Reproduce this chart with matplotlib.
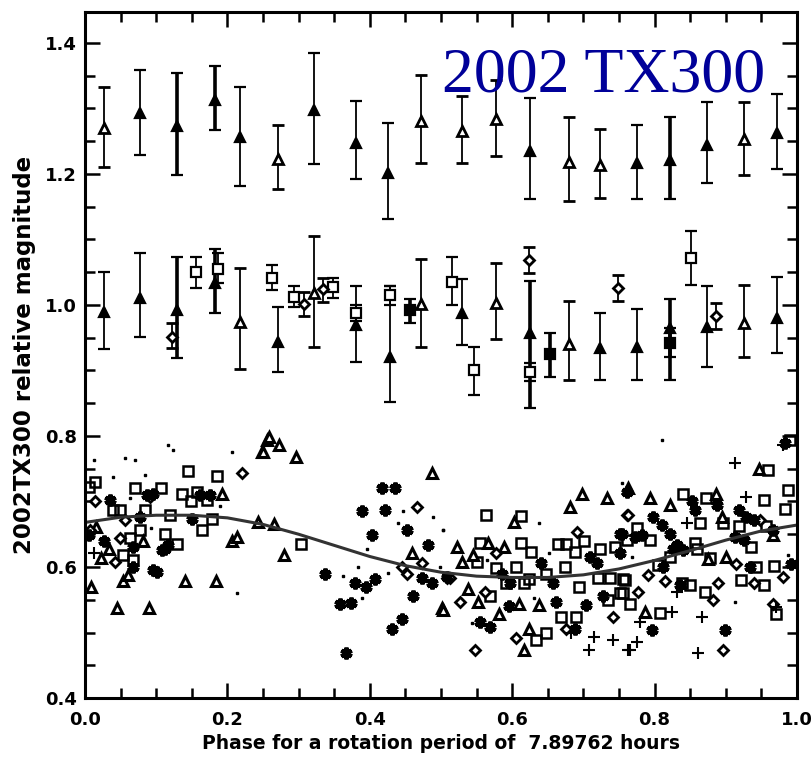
import numpy as np
import matplotlib
matplotlib.use('Agg')
import matplotlib.pyplot as plt
from matplotlib.ticker import MultipleLocator

plt.rcParams['font.family'] = 'DejaVu Sans'

# ---- upper light curve (binned, offset +0.6) ----
up_fill_x = [0.077, 0.217, 0.322, 0.381, 0.425, 0.625, 0.775, 0.873, 0.972]
up_fill_y = [1.293, 1.257, 1.298, 1.247, 1.201, 1.235, 1.217, 1.244, 1.262]
up_fill_lo = [1.229, 1.182, 1.215, 1.192, 1.131, 1.162, 1.162, 1.186, 1.208]
up_fill_hi = [1.359, 1.333, 1.385, 1.312, 1.277, 1.316, 1.275, 1.310, 1.322]

up_bold_x = [0.129, 0.182, 0.822]
up_bold_y = [1.273, 1.313, 1.221]
up_bold_lo = [1.198, 1.267, 1.162]
up_bold_hi = [1.354, 1.365, 1.287]

up_open_x = [0.027, 0.271, 0.472, 0.530, 0.577, 0.680, 0.723, 0.926]
up_open_y = [1.270, 1.223, 1.280, 1.266, 1.284, 1.218, 1.214, 1.253]
up_open_lo = [1.211, 1.177, 1.217, 1.217, 1.228, 1.159, 1.163, 1.198]
up_open_hi = [1.333, 1.275, 1.351, 1.319, 1.344, 1.287, 1.269, 1.310]

# ---- middle light curve (offset +0.3) ----
mid_fill_x = [0.027, 0.077, 0.271, 0.381, 0.428, 0.530, 0.723, 0.775, 0.873, 0.972]
mid_fill_y = [0.989, 1.011, 0.944, 0.969, 0.921, 0.988, 0.934, 0.936, 0.966, 0.980]
mid_fill_lo = [0.933, 0.951, 0.898, 0.913, 0.852, 0.939, 0.885, 0.886, 0.905, 0.927]
mid_fill_hi = [1.050, 1.079, 0.997, 1.029, 1.029, 1.040, 0.988, 0.994, 1.029, 1.043]

mid_bold_x = [0.129, 0.182, 0.625, 0.822]
mid_bold_y = [0.992, 1.033, 0.957, 0.965]
mid_bold_lo = [0.919, 0.988, 0.843, 0.886]
mid_bold_hi = [1.073, 1.085, 1.037, 1.009]

mid_open_x = [0.217, 0.322, 0.472, 0.577, 0.680, 0.926]
mid_open_y = [0.974, 1.018, 1.001, 1.003, 0.940, 0.972]
mid_open_lo = [0.902, 0.936, 0.936, 0.948, 0.886, 0.921]
mid_open_hi = [1.056, 1.105, 1.070, 1.064, 1.006, 1.031]

mid_sq_x = [0.156, 0.187, 0.262, 0.293, 0.349, 0.381, 0.428, 0.515, 0.546, 0.625, 0.851]
mid_sq_y = [1.050, 1.055, 1.041, 1.012, 1.027, 0.988, 1.015, 1.035, 0.901, 0.898, 1.072]
mid_sq_lo = [1.026, 1.033, 1.023, 0.997, 1.011, 0.975, 1.000, 1.000, 0.863, 0.884, 1.031]
mid_sq_hi = [1.073, 1.079, 1.061, 1.029, 1.041, 1.000, 1.029, 1.073, 0.936, 0.912, 1.113]

mid_sqf_x = [0.456, 0.653, 0.822]
mid_sqf_y = [0.992, 0.925, 0.942]
mid_sqf_lo = [0.973, 0.890, 0.920]
mid_sqf_hi = [1.009, 0.957, 0.965]

mid_dia_x = [0.122, 0.308, 0.334, 0.624, 0.749, 0.886]
mid_dia_y = [0.951, 1.001, 1.024, 1.069, 1.026, 0.983]
mid_dia_lo = [0.934, 0.983, 1.005, 1.049, 1.006, 0.963]
mid_dia_hi = [0.972, 1.020, 1.041, 1.088, 1.046, 1.003]

# ---- individual measurements ----
sq_x = [0.006, 0.014, 0.144, 0.186, 0.070, 0.107, 0.136, 0.157, 0.171, 0.149, 0.040, 0.049,
        0.084, 0.120, 0.178, 0.164, 0.077, 0.112, 0.063, 0.129, 0.054, 0.068, 0.304,
        0.563, 0.613, 0.555, 0.613, 0.627, 0.665, 0.676, 0.701, 0.688, 0.723, 0.744, 0.550,
        0.577, 0.605, 0.624, 0.648, 0.674, 0.694, 0.721, 0.737, 0.755, 0.751, 0.569, 0.669,
        0.690, 0.634, 0.616, 0.592, 0.648, 0.735,
        0.960, 0.988, 0.840, 0.872, 0.954, 0.864, 0.983, 0.775, 0.794, 0.761, 0.857, 0.878,
        0.805, 0.838, 0.850, 0.871, 0.758, 0.765, 0.756, 0.808, 0.968, 0.922, 0.953, 0.936,
        0.957, 0.896, 0.918, 0.971, 0.943, 0.990, 0.859, 0.822]
sq_y = [0.722, 0.730, 0.747, 0.739, 0.721, 0.720, 0.711, 0.715, 0.702, 0.700, 0.687, 0.687,
        0.687, 0.680, 0.673, 0.656, 0.656, 0.651, 0.644, 0.635, 0.618, 0.611, 0.635,
        0.680, 0.678, 0.637, 0.637, 0.623, 0.635, 0.635, 0.640, 0.623, 0.628, 0.631, 0.607,
        0.598, 0.600, 0.581, 0.590, 0.600, 0.570, 0.583, 0.583, 0.581, 0.560, 0.556, 0.524,
        0.524, 0.488, 0.575, 0.575, 0.499, 0.550,
        0.748, 0.718, 0.712, 0.705, 0.702, 0.667, 0.688, 0.659, 0.641, 0.641, 0.636, 0.613,
        0.603, 0.575, 0.573, 0.562, 0.580, 0.544, 0.560, 0.530, 0.601, 0.580, 0.572, 0.631,
        0.662, 0.667, 0.662, 0.529, 0.600, 0.794, 0.628, 0.616]

tri_x = [0.009, 0.045, 0.090, 0.140, 0.184, 0.053, 0.249, 0.255, 0.243, 0.206, 0.213, 0.192,
         0.023, 0.016, 0.082, 0.061, 0.033,
         0.258, 0.272, 0.250, 0.297, 0.265, 0.279, 0.487, 0.501, 0.459,
         0.698, 0.733, 0.681, 0.602, 0.523, 0.529, 0.545, 0.566, 0.588, 0.538, 0.552, 0.609,
         0.623, 0.638, 0.617, 0.503, 0.581,
         0.763, 0.793, 0.822, 0.946, 0.886, 0.875, 0.786, 0.894, 0.967, 0.901]
tri_y = [0.570, 0.537, 0.537, 0.578, 0.578, 0.578, 0.776, 0.794, 0.669, 0.639, 0.646, 0.712,
         0.613, 0.661, 0.639, 0.588, 0.628,
         0.799, 0.786, 0.776, 0.768, 0.666, 0.618, 0.744, 0.537, 0.621,
         0.712, 0.705, 0.692, 0.668, 0.631, 0.608, 0.618, 0.636, 0.631, 0.567, 0.547, 0.544,
         0.506, 0.542, 0.474, 0.534, 0.529,
         0.720, 0.706, 0.695, 0.749, 0.711, 0.612, 0.532, 0.677, 0.649, 0.616]

dia_x = [0.220, 0.014, 0.056, 0.049, 0.042, 0.007, 0.091,
         0.466, 0.445, 0.452, 0.474, 0.508,
         0.548, 0.606, 0.527, 0.562, 0.577, 0.691, 0.761, 0.742, 0.676, 0.513,
         0.763, 0.791, 0.815, 0.777, 0.889, 0.882, 0.896, 0.967, 0.981, 0.939, 0.915, 0.948]
dia_y = [0.743, 0.700, 0.672, 0.644, 0.608, 0.656, 0.707,
         0.692, 0.600, 0.589, 0.606, 0.583,
         0.474, 0.491, 0.547, 0.562, 0.621, 0.654, 0.679, 0.524, 0.506, 0.583,
         0.679, 0.588, 0.578, 0.562, 0.575, 0.550, 0.474, 0.544, 0.585, 0.575, 0.605, 0.672]

ast_x = [0.101, 0.096, 0.108, 0.117, 0.112, 0.077, 0.087, 0.096, 0.035, 0.026, 0.150, 0.176,
         0.161, 0.005, 0.068, 0.068,
         0.417, 0.435, 0.389, 0.421, 0.403, 0.452, 0.482, 0.337, 0.379, 0.395, 0.407, 0.358,
         0.373, 0.445, 0.431, 0.367, 0.473, 0.487, 0.461,
         0.555, 0.569, 0.595, 0.662, 0.704, 0.728, 0.709, 0.719, 0.754, 0.751, 0.585, 0.641,
         0.508, 0.688, 0.597, 0.658, 0.761,
         0.798, 0.810, 0.822, 0.831, 0.840, 0.826, 0.852, 0.857, 0.887, 0.918, 0.929, 0.939,
         0.913, 0.925, 0.772, 0.782, 0.751, 0.812, 0.899, 0.796, 0.967, 0.992, 0.934, 0.836,
         0.983]
ast_y = [0.593, 0.595, 0.626, 0.634, 0.628, 0.677, 0.710, 0.712, 0.702, 0.639, 0.674, 0.710,
         0.710, 0.649, 0.600, 0.631,
         0.720, 0.720, 0.686, 0.687, 0.649, 0.656, 0.633, 0.589, 0.576, 0.570, 0.581, 0.543,
         0.545, 0.520, 0.506, 0.468, 0.583, 0.575, 0.556,
         0.516, 0.509, 0.540, 0.547, 0.542, 0.555, 0.616, 0.606, 0.651, 0.621, 0.590, 0.606,
         0.585, 0.506, 0.575, 0.575, 0.715,
         0.677, 0.664, 0.651, 0.634, 0.626, 0.628, 0.700, 0.687, 0.695, 0.687, 0.677, 0.672,
         0.646, 0.641, 0.646, 0.649, 0.651, 0.600, 0.504, 0.504, 0.656, 0.604, 0.600, 0.573,
         0.789]

plus_x = [0.012, 0.715, 0.741, 0.708, 0.683, 0.763, 0.913, 0.981, 0.845, 0.929, 0.866, 0.861,
          0.824, 0.779, 0.765, 0.775, 0.831, 0.971]
plus_y = [0.621, 0.493, 0.488, 0.473, 0.499, 0.473, 0.758, 0.786, 0.667, 0.707, 0.523, 0.468,
          0.532, 0.516, 0.473, 0.486, 0.562, 0.539]

dot_x = [0.117, 0.124, 0.206, 0.012, 0.056, 0.070, 0.084, 0.040, 0.213, 0.093, 0.063, 0.190,
         0.363, 0.383, 0.396, 0.447, 0.489, 0.503, 0.439, 0.426, 0.498, 0.389,
         0.503, 0.637, 0.651, 0.754, 0.543, 0.630, 0.564,
         0.811, 0.913, 0.988, 0.768]
dot_y = [0.786, 0.779, 0.775, 0.763, 0.767, 0.763, 0.740, 0.737, 0.561, 0.659, 0.705, 0.693,
         0.586, 0.600, 0.628, 0.686, 0.677, 0.656, 0.667, 0.591, 0.600, 0.552,
         0.656, 0.667, 0.621, 0.728, 0.514, 0.552, 0.611,
         0.794, 0.547, 0.618, 0.616]

# ---- fitted Fourier curve, read at 0.05 steps ----
fit_phase = [0.00, 0.05, 0.10, 0.15, 0.20, 0.25, 0.30, 0.35, 0.40, 0.45, 0.50,
             0.55, 0.60, 0.65, 0.70, 0.75, 0.80, 0.85, 0.90, 0.95, 1.00]
fit_mag = [0.668, 0.676, 0.679, 0.679, 0.675, 0.665, 0.650, 0.633, 0.616, 0.602, 0.592,
           0.586, 0.584, 0.584, 0.588, 0.597, 0.610, 0.625, 0.641, 0.655, 0.664]

fig = plt.figure(figsize=(8.12, 7.73), dpi=100)
ax = fig.add_axes([0.1047, 0.097, 0.8768, 0.8874])


def bars(x, y, lo, hi, marker, face, lw, ms, mew=1.6):
    y = np.asarray(y)
    err = [y - np.asarray(lo), np.asarray(hi) - y]
    ax.errorbar(x, y, yerr=err, fmt=marker, color='black', mfc=face, mec='black',
                ms=ms, mew=mew, elinewidth=lw, capsize=4, capthick=lw, zorder=3)


bars(up_fill_x, up_fill_y, up_fill_lo, up_fill_hi, '^', 'black', 1.3, 7)
bars(up_bold_x, up_bold_y, up_bold_lo, up_bold_hi, '^', 'black', 2.6, 7)
bars(up_open_x, up_open_y, up_open_lo, up_open_hi, '^', 'white', 1.3, 7, 2.0)
bars(mid_fill_x, mid_fill_y, mid_fill_lo, mid_fill_hi, '^', 'black', 1.3, 7)
bars(mid_bold_x, mid_bold_y, mid_bold_lo, mid_bold_hi, '^', 'black', 2.6, 7)
bars(mid_open_x, mid_open_y, mid_open_lo, mid_open_hi, '^', 'white', 1.3, 7, 2.0)
bars(mid_sq_x, mid_sq_y, mid_sq_lo, mid_sq_hi, 's', 'white', 1.3, 6.5)
bars(mid_sqf_x, mid_sqf_y, mid_sqf_lo, mid_sqf_hi, 's', 'black', 2.6, 6.5)
bars(mid_dia_x, mid_dia_y, mid_dia_lo, mid_dia_hi, 'D', 'white', 1.3, 5, 2.0)

# scattered points
ax.plot(sq_x, sq_y, 's', ms=7.5, mfc='none', mec='black', mew=1.8, zorder=2)
ax.plot(tri_x, tri_y, '^', ms=7.5, mfc='white', mec='black', mew=2.2, zorder=2)
ax.plot(dia_x, dia_y, 'D', ms=5.5, mfc='white', mec='black', mew=2.0, zorder=2)
ax.plot(ast_x, ast_y, marker=(6, 2, 0), ls='none', ms=8.5, mec='black', mew=3.0, zorder=2)
ax.plot(plus_x, plus_y, '+', ms=9, mec='black', mew=1.5, zorder=2)
ax.plot(dot_x, dot_y, 's', ms=2, mfc='black', mec='black', zorder=2)

ax.plot(fit_phase, fit_mag, color='#333333', lw=2.2, zorder=2.5)

ax.text(0.501, 1.325, '2002 TX300', fontsize=46, color='#000099',
        family=['Liberation Serif', 'DejaVu Serif'], va='baseline', ha='left', zorder=5)

ax.set_xlim(0.0, 1.0)
ax.set_ylim(0.4, 1.447)
ax.xaxis.set_major_locator(MultipleLocator(0.2))
ax.xaxis.set_minor_locator(MultipleLocator(0.05))
ax.yaxis.set_major_locator(MultipleLocator(0.2))
ax.yaxis.set_minor_locator(MultipleLocator(0.05))
ax.xaxis.set_major_formatter(plt.FormatStrFormatter('%.1f'))
ax.yaxis.set_major_formatter(plt.FormatStrFormatter('%.1f'))
ax.tick_params(which='both', direction='in', top=True, right=True, width=1.8,
               labelsize=13)
ax.tick_params(which='major', length=11)
ax.tick_params(which='minor', length=7)
ax.tick_params(axis='x', pad=9)
ax.tick_params(axis='y', pad=6)
for lab in ax.get_xticklabels() + ax.get_yticklabels():
    lab.set_fontweight('bold')
for s in ax.spines.values():
    s.set_linewidth(2.2)

ax.set_xlabel('Phase for a rotation period of  7.89762 hours', fontsize=13.5,
              fontweight='bold', labelpad=4)
ax.set_ylabel('2002TX300 relative magnitude', fontsize=16.5, fontweight='bold',
              labelpad=6)

fig.savefig('out.png', dpi=100)
